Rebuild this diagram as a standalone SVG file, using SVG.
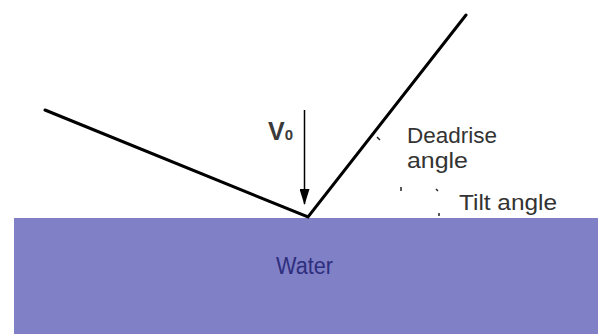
<svg xmlns="http://www.w3.org/2000/svg" width="598" height="336" viewBox="0 0 598 336">
<style>
.lbl{font-family:"Liberation Sans",Arial,sans-serif;font-size:22px;fill:#333}
.hull{fill:none;stroke:#000;stroke-width:3;stroke-linecap:round;stroke-linejoin:miter}
.tick{fill:none;stroke:#222;stroke-width:1.5}
</style>
<defs>
<marker id="ah" markerWidth="16" markerHeight="10" refX="15" refY="5" orient="auto" markerUnits="userSpaceOnUse" viewBox="0 0 16 10">
<path d="M0,0 L16,5 L0,10 Z" fill="#000"/>
</marker>
</defs>
<rect width="598" height="336" fill="#fff"/>
<g id="water">
<rect x="14" y="218" width="584" height="116" fill="#8080c6"/>
<text x="276" y="274" textLength="57" lengthAdjust="spacingAndGlyphs" style="font-family:'Liberation Sans',Arial,sans-serif;font-size:23px;fill:#2e2e7e">Water</text>
</g>
<g id="hull">
<polyline class="hull" points="45,110 308,217 466,15"/>
</g>
<g id="connectors">
<line x1="304.5" y1="110" x2="304.5" y2="204" stroke="#000" stroke-width="1.5" marker-end="url(#ah)"/>
<path class="tick" d="M377,137 l3,3"/>
<path class="tick" d="M401,187 l0,4"/>
<path class="tick" d="M436,189 l2,2"/>
<path class="tick" d="M439,213 l0,3"/>
</g>
<g id="labels">
<text x="268" y="140" style="font-family:'Liberation Sans',Arial,sans-serif;font-weight:bold;font-size:25px;fill:#3a3a3a">V<tspan font-size="15" font-weight="bold">0</tspan></text>
<text class="lbl" x="407" y="143" textLength="90" lengthAdjust="spacingAndGlyphs">Deadrise</text>
<text class="lbl" x="407" y="168" textLength="61" lengthAdjust="spacingAndGlyphs">angle</text>
<text class="lbl" x="459" y="210" textLength="98" lengthAdjust="spacingAndGlyphs">Tilt angle</text>
</g>
</svg>
